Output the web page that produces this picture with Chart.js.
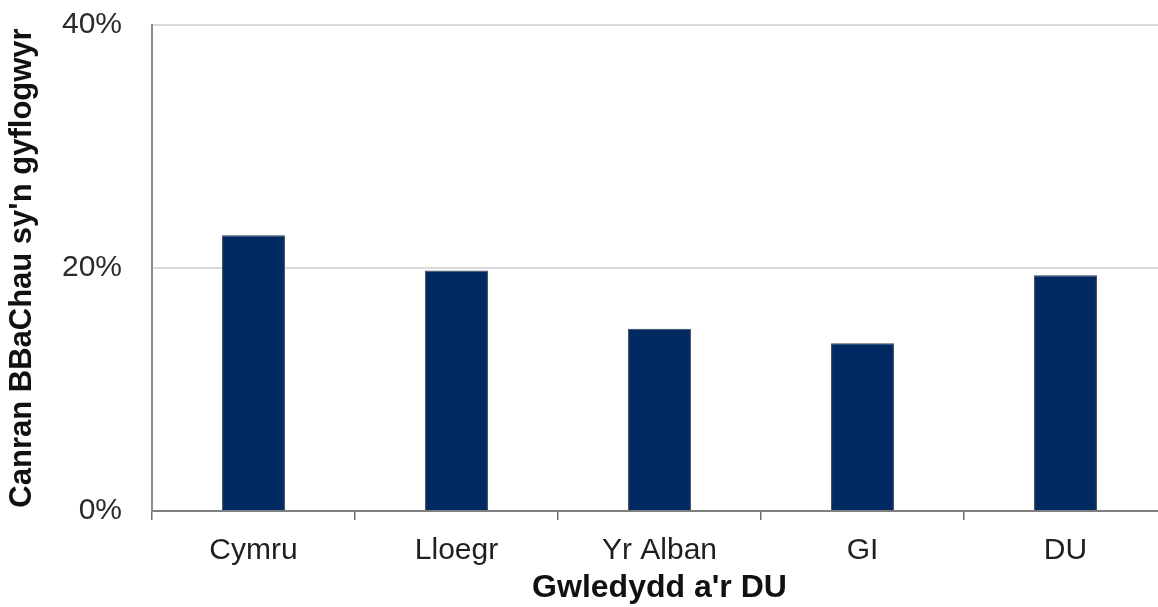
<!DOCTYPE html>
<html>
<head>
<meta charset="utf-8">
<script src="https://cdn.jsdelivr.net/npm/chart.js@4.4.1/dist/chart.umd.min.js"></script>
<style>
  html, body { margin: 0; padding: 0; background: #fff; overflow: hidden; }
  #wrap { width: 1158px; height: 607px; overflow: hidden; }
</style>
</head>
<body>
<div id="wrap">
  <canvas id="smeChart" width="1170" height="607"></canvas>
</div>
<script>
// data
const countries = ['Cymru', 'Lloegr', 'Yr Alban', 'GI', 'DU'];
const employerShare = [22.7, 19.8, 15.0, 13.8, 19.4];
const yTicks = [0, 20, 40];

const xTitle = 'Gwledydd a\'r DU';
const yTitle = 'Canran BBaChau sy\'n gyflogwyr';

const fontFamily = '"Liberation Sans", Arial, sans-serif';

const canvas = document.getElementById('smeChart');
new Chart(canvas, {
  type: 'bar',
  data: {
    labels: countries,
    datasets: [
      {
        label: yTitle,
        data: employerShare,
        backgroundColor: '#002a61',
        borderColor: '#3d4659',
        borderWidth: 1,
        barPercentage: 0.31,
        categoryPercentage: 1,
      },
    ],
  },
  options: {
    responsive: false,
    animation: false,
    layout: { padding: { top: 25, right: 3, left: 0, bottom: 0 } },
    plugins: {
      legend: { display: false },
      tooltip: { enabled: false },
    },
    scales: {
      x: {
        offset: true,
        afterFit: (scale) => { scale.height = 96; },
        border: { color: '#7f7f7f', width: 2 },
        grid: {
          offset: true,
          drawOnChartArea: false,
          drawTicks: true,
          tickLength: 9,
          color: '#6f6f6f',
          lineWidth: 1.5,
        },
        ticks: {
          padding: 13,
          color: '#1f1f1f',
          font: { family: fontFamily, size: 30 },
        },
        title: {
          display: true,
          text: xTitle,
          color: '#111',
          padding: { top: 0, bottom: 0 },
          font: { family: fontFamily, size: 32, weight: 'bold' },
        },
      },
      y: {
        min: 0,
        max: 40,
        afterFit: (scale) => { scale.width = 152; },
        afterBuildTicks: (scale) => {
          scale.ticks = yTicks.map((v) => ({ value: v }));
        },
        border: { color: '#8a8a8a', width: 2 },
        grid: {
          // invisible tick marks keep the labels clear of the axis
          drawTicks: true,
          tickLength: 30,
          tickColor: 'rgba(0,0,0,0)',
          color: (ctx) => (ctx.tick && ctx.tick.value === 0 ? 'rgba(0,0,0,0)' : '#d9d9d9'),
          lineWidth: 2,
        },
        ticks: {
          padding: 0,
          color: '#2b2b2b',
          font: { family: fontFamily, size: 30 },
          callback: (v) => v + '%',
        },
        title: {
          display: true,
          text: yTitle,
          color: '#111',
          padding: { top: 4, bottom: 0 },
          font: { family: fontFamily, size: 31, weight: 'bold' },
        },
      },
    },
  },
});
</script>
</body>
</html>
